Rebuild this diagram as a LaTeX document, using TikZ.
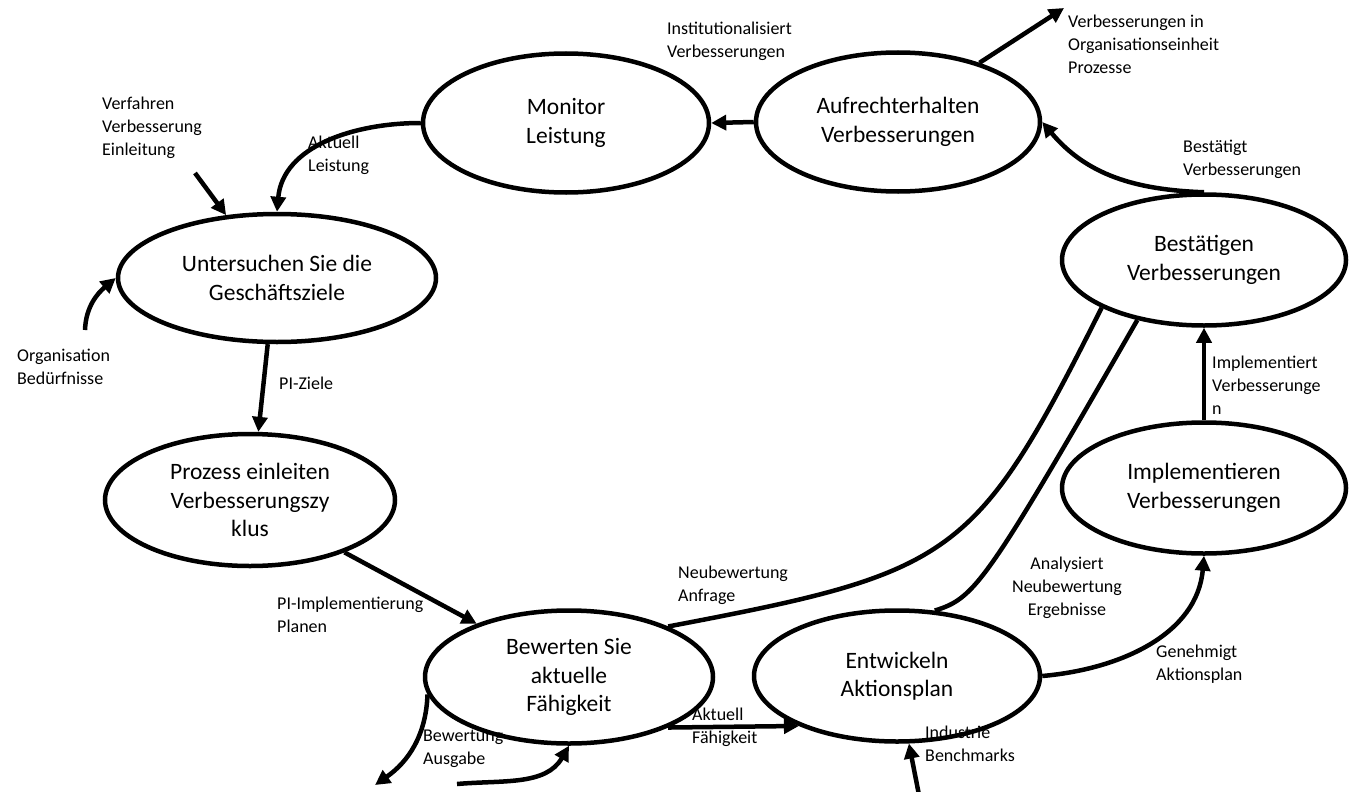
\documentclass[tikz,border=0pt]{standalone}
\usepackage{fontspec}
\setmainfont{Carlito}
\usetikzlibrary{arrows.meta,shapes.geometric}
\tikzset{
  phase/.style={ellipse,draw,line width=4.5pt,inner sep=0pt,align=center,font=\fontsize{23.5}{28.5}\selectfont},
  lbl/.style={font=\fontsize{18}{23}\selectfont,align=left,inner sep=0pt,anchor=west},
  arr/.style={-{Triangle[length=15pt,width=15pt]},line width=4.5pt},
  link/.style={line width=4.5pt},
}
\begin{document}
\begin{tikzpicture}[x=1pt,y=1pt]
\useasboundingbox (0,0) rectangle (1349,-792);
\node[phase,minimum width=318pt,minimum height=128pt] (unt) at (277,-278) {Untersuchen Sie die\\Geschäftsziele};
\node[phase,minimum width=286pt,minimum height=139pt] (mon) at (566,-123) {Monitor\\Leistung};
\node[phase,minimum width=284pt,minimum height=139pt] (auf) at (898,-122) {Aufrechterhalten\\Verbesserungen};
\node[phase,minimum width=284pt,minimum height=131pt] (best) at (1204,-260) {Bestätigen\\Verbesserungen};
\node[phase,minimum width=284pt,minimum height=131pt] (impl) at (1204,-488) {Implementieren\\Verbesserungen};
\node[phase,minimum width=290pt,minimum height=132pt] (proz) at (250,-500) {Prozess einleiten\\Verbesserungszy\\klus};
\node[phase,minimum width=288pt,minimum height=133pt] (bew) at (569,-677) {Bewerten Sie\\aktuelle\\Fähigkeit};
\node[phase,minimum width=286pt,minimum height=131pt] (ent) at (897,-676) {Entwickeln\\Aktionsplan};
\node[lbl] (l-inst) at (667,-41) {Institutionalisiert\\Verbesserungen};
\node[lbl] (l-orgp) at (1068,-44) {Verbesserungen in\\Organisationseinheit\\Prozesse};
\node[lbl] (l-verf) at (102,-128) {Verfahren\\Verbesserung\\Einleitung};
\node[lbl] (l-akl) at (308,-155) {Aktuell\\Leistung};
\node[lbl] (l-org) at (17,-367) {Organisation\\Bedürfnisse};
\node[lbl] (l-piz) at (279,-383) {PI-Ziele};
\node[lbl] (l-pii) at (277,-615) {PI-Implementierung\\Planen};
\node[lbl] (l-neu) at (678,-585) {Neubewertung\\Anfrage};
\node[lbl,anchor=center,align=center] (l-ana) at (1067,-588) {Analysiert\\Neubewertung\\Ergebnisse};
\node[lbl] (l-gen) at (1156,-664) {Genehmigt\\Aktionsplan};
\node[lbl] (l-imp) at (1212,-385) {Implementiert\\Verbesserunge\\n};
\node[lbl] (l-bst) at (1183,-159) {Bestätigt\\Verbesserungen};
\node[lbl] (l-bwa) at (423,-749) {Bewertung\\Ausgabe};
\node[lbl] (l-akf) at (692,-727) {Aktuell\\Fähigkeit};
\node[lbl] (l-ind) at (925,-744) {Industrie\\Benchmarks};
\coordinate (verfin) at (195,-173);
\coordinate (orgin) at (85,-330);
\coordinate (aufout) at (1064,-8);
\coordinate (bewout) at (375,-785);
\coordinate (bewin) at (457,-784);
\coordinate (indin) at (919,-795);
\draw[arr] (auf.west) -- (mon.east);
\draw[arr] (mon.west) to[out=180,in=85] (unt.north);
\draw[arr] (verfin) -- (unt.129);
\draw[arr] (orgin) to[out=88,in=220] (unt.west);
\draw[arr] (unt.262) -- (proz.83);
\draw[arr] (proz.-29) -- (bew.150);
\draw[arr] (bew.-27) -- (ent.207);
\draw[arr] (bew.187) to[out=-92,in=35] (bewout);
\draw[arr] (bewin) to[out=5,in=-120] (bew.south);
\draw[link] (bew.27) .. controls (955,-572) and (975,-560) .. (best.205);
\draw[link] (ent.60) .. controls (975,-598) and (985,-585) .. (best.222);
\draw[arr] (ent.east) to[out=5,in=-95] (impl.south);
\draw[arr] (impl.north) -- (best.south);
\draw[arr] (best.north) to[out=178,in=-50] (auf.east);
\draw[arr] (auf.36) -- (aufout);
\draw[arr] (indin) -- (ent.-80);
\end{tikzpicture}
\end{document}
